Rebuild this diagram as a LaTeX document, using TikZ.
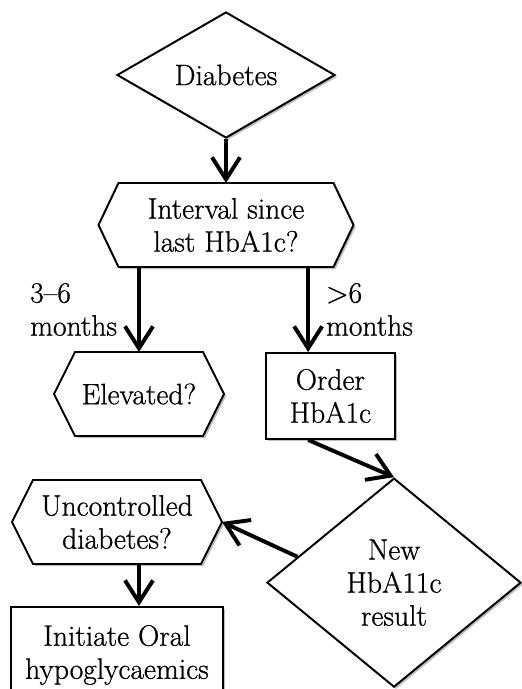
\documentclass[tikz,border=0pt]{standalone}
\usepackage{fontspec}
\newfontfamily\chartfont{Latin Modern Roman}[FakeBold=0.8, Ligatures=TeX]
\usepackage{tikz}
\usetikzlibrary{shapes.geometric, arrows.meta, positioning, calc, shadows, backgrounds}

\begin{document}
\begin{tikzpicture}[
        txt/.style={font=\chartfont\fontsize{21pt}{23.5pt}\selectfont, align=center},
        outline/.style={draw=black, line width=1.4pt, fill=white, drop shadow={shadow xshift=1.5pt, shadow yshift=-1.5pt, opacity=0.25, fill=black}},
        decision/.style={txt, outline, diamond, inner sep=1pt},
        query/.style={txt, rectangle, outer sep=0pt, inner sep=2pt, minimum height=2.1cm},
        box/.style={txt, outline, rectangle},
        arrow/.style={-{Straight Barb[length=5.5mm, width=7mm]}, line width=2.8pt},
        lbl/.style={txt, align=left, inner sep=0pt}
    ]
        \useasboundingbox (-5.65,1.875) rectangle (7.4,-15.35);

        \node (diabetes) [decision, minimum width=5.45cm, minimum height=3.15cm, aspect=1.73] {Diabetes};
        \node (interval) [query, below=1.1cm of diabetes, minimum width=6.375cm] {Interval since\\last HbA1c?};
        \node (elevated) [query, below=2.125cm of interval, xshift=-2.175cm, minimum width=4.25cm] {Elevated?};
        \node (order) [box, below=2.125cm of interval, xshift=2.61cm, minimum width=3.225cm, minimum height=2.15cm] {Order\\HbA1c};
        \node (result) [decision, below=0.93cm of order, xshift=1.59cm, minimum width=6.35cm, minimum height=5.225cm, aspect=1.21] {New\\HbA11c\\result};
        \node (uncontrolled) [query, below=1.1cm of elevated, xshift=-0.55cm, minimum width=5.25cm] {Uncontrolled\\diabetes?};
        \node (initiate) [box, below=1.05cm of uncontrolled, minimum width=5.3cm, minimum height=2.4cm] {Initiate Oral\\hypoglycaemics};

        % hexagon outlines behind the query texts
        \begin{scope}[on background layer]
            \foreach \hex/\cut in {interval/0.5cm, elevated/0.525cm, uncontrolled/0.525cm}
                \draw [outline] ([xshift=\cut]\hex.north west) -- ([xshift=-\cut]\hex.north east) -- (\hex.east) -- ([xshift=-\cut]\hex.south east) -- ([xshift=\cut]\hex.south west) -- (\hex.west) -- cycle;
        \end{scope}

        \coordinate (orderin) at ($(order.north west)!0.33!(order.north east)$);

        \draw [arrow] (diabetes) -- (interval);
        \draw [arrow] (interval.south -| elevated.north) -- node [lbl, left=0.5cm] {3--6\\months} (elevated);
        \draw [arrow] (interval.south -| orderin) -- node [lbl, right=0.4cm] {>6\\months} (orderin);
        \draw [arrow] (order.south -| orderin) -- (result.north);
        \draw [arrow] (result.165) -- (uncontrolled.east);
        \draw [arrow] (uncontrolled.south -| elevated) -- (initiate.north -| elevated);
    \end{tikzpicture}
\end{document}
